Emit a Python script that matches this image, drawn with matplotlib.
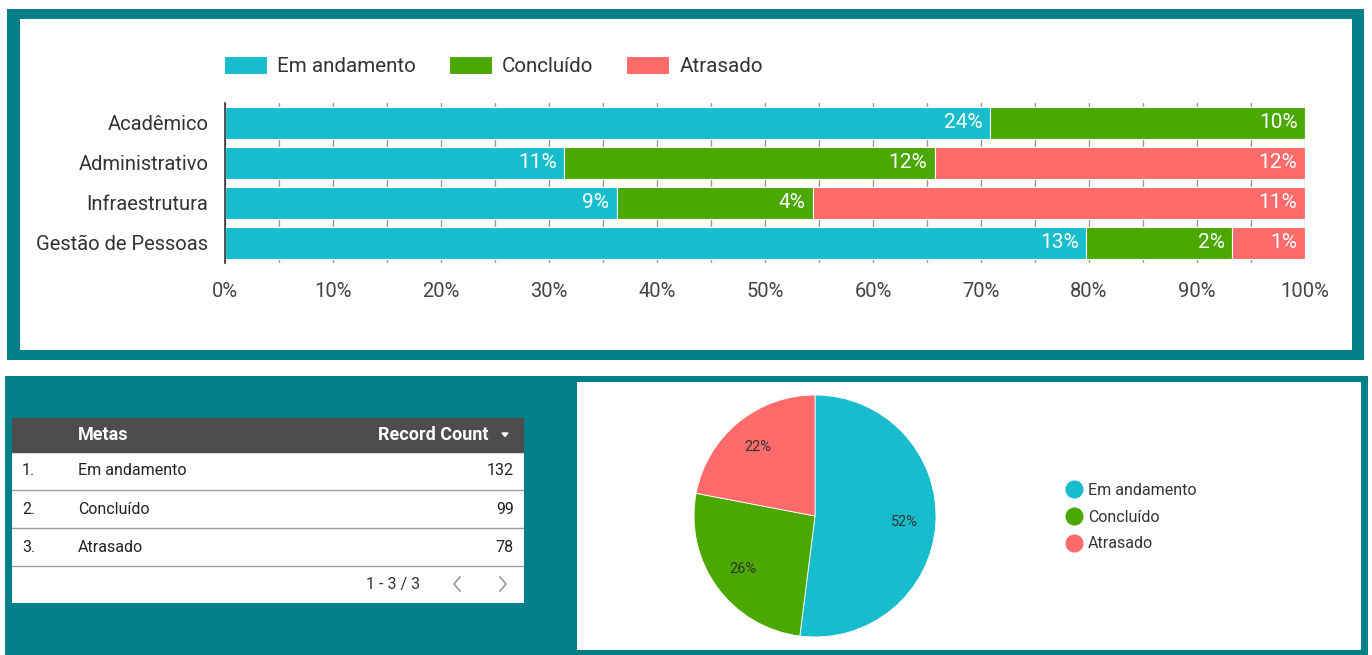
import numpy as np
import matplotlib.pyplot as plt
from matplotlib.patches import Rectangle, Polygon
from matplotlib.lines import Line2D

plt.rcParams['font.family'] = ['Roboto', 'DejaVu Sans']

# data
categorias = ['Acadêmico', 'Administrativo', 'Infraestrutura', 'Gestão de Pessoas']
status = ['Em andamento', 'Concluído', 'Atrasado']
em_andamento = [24.3, 11.0, 8.6, 13.0]
concluido = [10.0, 12.0, 4.3, 2.2]
atrasado = [0.0, 12.0, 10.8, 1.1]

tabela_metas = ['Em andamento', 'Concluído', 'Atrasado']
tabela_contagem = [132, 99, 78]

pizza_valores = [52, 26, 22]

cores = ['#17bdcc', '#4aa800', '#ff6a6a']
TEAL = '#01808a'

W, H = 1372, 655
fig = plt.figure(figsize=(W / 100, H / 100), dpi=100, facecolor='white')


def box(x0, y0, x1, y1, color):
    # rectangle in pixel coords (top-left origin)
    fig.add_artist(Rectangle((x0 / W, 1 - y1 / H), (x1 - x0) / W, (y1 - y0) / H,
                             transform=fig.transFigure, color=color, lw=0, zorder=0))


def ax_px(x0, y0, x1, y1):
    return fig.add_axes([x0 / W, 1 - y1 / H, (x1 - x0) / W, (y1 - y0) / H])


# panels
box(7, 9, 1364, 360, TEAL)
box(20, 19, 1352, 350, 'white')
box(5, 376, 1368, 655, TEAL)
box(577, 382, 1361, 650, 'white')

# ---- stacked 100% bar chart
ax = ax_px(225, 103, 1305, 263)
ax.set_facecolor('none')
vals = np.array([em_andamento, concluido, atrasado])
totais = vals.sum(axis=0)
frac = vals / totais * 100
y = np.arange(len(categorias))
left = np.zeros(len(categorias))
for i in range(len(status)):
    ax.barh(y, frac[i], left=left, height=0.78, color=cores[i], label=status[i],
            edgecolor='white', linewidth=0.8, zorder=3)
    for j in range(len(categorias)):
        if vals[i][j] > 0:
            ax.text(left[j] + frac[i][j] - 0.7, y[j], f'{vals[i][j]:.0f}%', ha='right',
                    va='center', color='white', fontsize=15, zorder=4)
    left += frac[i]

ax.set_ylim(3.5, -0.5)
ax.set_xlim(0, 100)
ax.set_xticks(np.arange(0, 101, 10))
ax.set_xticklabels([f'{v}%' for v in range(0, 101, 10)])
ax.set_xticks(np.arange(0, 101, 5), minor=True)
ax.set_yticks(y)
ax.set_yticklabels(categorias)
ax.grid(axis='x', which='both', color='#9a9a9a', lw=1, zorder=0)
ax.tick_params(axis='x', length=0, which='both', pad=14, labelsize=14.5, labelcolor='#444444')
ax.tick_params(axis='y', length=0, pad=12, labelsize=14.5, labelcolor='#333333')
for s in ['top', 'right', 'bottom']:
    ax.spines[s].set_visible(False)
ax.spines['left'].set_color('#333333')
ax.spines['left'].set_linewidth(1.2)
ax.spines['left'].set_zorder(5)

leg = ax.legend(loc='center left', bbox_to_anchor=(205 / W, 1 - 66 / H),
                bbox_transform=fig.transFigure, ncol=3, frameon=False, fontsize=14.8,
                handlelength=2.1, handleheight=1.0, handletextpad=0.5, columnspacing=1.6)
for t in leg.get_texts():
    t.set_color('#333333')

# ---- table
at = ax_px(12, 418, 524, 603)
at.set_xlim(0, 512)
at.set_ylim(185, 0)
at.axis('off')
at.add_patch(Rectangle((0, 0), 512, 185, color='white', zorder=0))
at.add_patch(Rectangle((0, 0), 512, 34, color='#4d4d4d', zorder=1))
at.text(66, 17, 'Metas', color='white', fontsize=13, fontweight='bold', va='center')
at.text(477, 17, 'Record Count', color='white', fontsize=13, fontweight='bold',
        va='center', ha='right')
at.add_patch(Polygon([[490, 15], [496, 15], [493, 18.5]], color='white', zorder=2))
for k, (meta, n) in enumerate(zip(tabela_metas, tabela_contagem)):
    yc = 34 + 38 * k + 19
    at.text(10, yc, f'{k + 1}.', fontsize=11.5, color='#222222', va='center')
    at.text(66, yc, meta, fontsize=11.5, color='#222222', va='center')
    at.text(502, yc, str(n), fontsize=11.5, color='#222222', va='center', ha='right')
    at.plot([0, 512], [34 + 38 * (k + 1)] * 2, color='#9e9e9e', lw=1)
at.text(381, 166, '1 - 3 / 3', fontsize=11.5, color='#333333', va='center', ha='center')
at.plot([448, 442, 448], [159, 166, 173], color='#999999', lw=1.2)
at.plot([488, 494, 488], [159, 166, 173], color='#999999', lw=1.2)

# ---- pie
ap = ax_px(694, 395, 936, 637)
wedges, _, autot = ap.pie(pizza_valores, colors=cores, startangle=90, counterclock=False,
                          autopct='%1.0f%%', pctdistance=0.74,
                          wedgeprops=dict(edgecolor='white', linewidth=0.6),
                          textprops=dict(fontsize=10.5, color='#333333'))
ap.set_xlim(-1, 1)
ap.set_ylim(-1, 1)
ap.set_aspect('equal')

handles = [Line2D([], [], marker='o', ls='', color=c, markersize=12) for c in cores]
fig.legend(handles, status, loc='center left', bbox_to_anchor=(1048 / W, 1 - 517 / H),
           frameon=False, fontsize=11.5, handletextpad=0.1, labelspacing=0.75,
           handlelength=1.5, labelcolor='#333333')

fig.savefig('out.png', dpi=100, facecolor='white')
